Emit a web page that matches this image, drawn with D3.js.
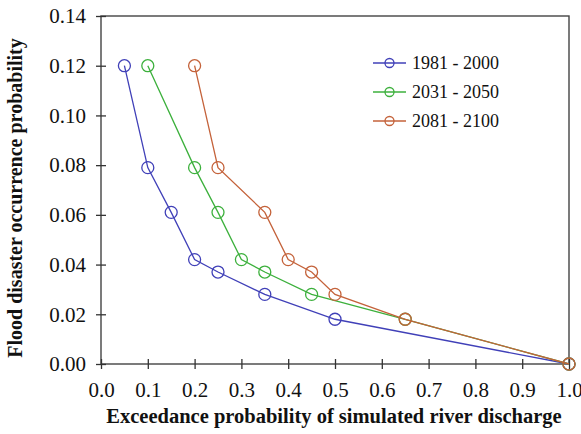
<!DOCTYPE html>
<html>
<head>
<meta charset="utf-8">
<script src="https://cdn.jsdelivr.net/npm/d3@7"></script>
<style>
  body { margin: 0; background: #fff; }
</style>
</head>
<body>
<script>
// exceedance probability (x) and flood occurrence probability (y) for each period
const periods = ['1981 - 2000', '2031 - 2050', '2081 - 2100'];
const colors = ['#4040b8', '#3cb03c', '#c4623a'];

const xBase = [0.05, 0.10, 0.15, 0.20, 0.25, 0.35, 0.50, 1.00];
const xMid = [0.10, 0.20, 0.25, 0.30, 0.35, 0.45, 0.65, 1.00];
const xLate = [0.20, 0.25, 0.35, 0.40, 0.45, 0.50, 0.65, 1.00];
const yProb = [0.120, 0.079, 0.061, 0.042, 0.037, 0.028, 0.018, 0.000];

const xTicks = [0, 0.1, 0.2, 0.3, 0.4, 0.5, 0.6, 0.7, 0.8, 0.9, 1.0];
const yTicks = [0, 0.02, 0.04, 0.06, 0.08, 0.10, 0.12, 0.14];

const series = [xBase, xMid, xLate].map((xs, i) => ({
  name: periods[i],
  color: colors[i],
  points: xs.map((x, j) => ({ x: x, y: yProb[j] }))
}));

const serif = '"Liberation Serif"';

const width = 581;
const height = 434;
const margin = { top: 16, right: 12, bottom: 70, left: 101 };
const innerWidth = width - margin.left - margin.right;
const innerHeight = height - margin.top - margin.bottom;

const svg = d3.select('body').append('svg')
  .attr('width', width)
  .attr('height', height)
  .style('font-family', serif);

const g = svg.append('g')
  .attr('transform', `translate(${margin.left}, ${margin.top})`);

const xScale = d3.scaleLinear().domain([0, 1]).range([0, innerWidth]);
const yScale = d3.scaleLinear().domain([0, 0.14]).range([innerHeight, 0]);

// frame
g.append('rect')
  .attr('width', innerWidth)
  .attr('height', innerHeight)
  .attr('fill', 'none')
  .attr('stroke', '#444')
  .attr('stroke-width', 1.4);

// axes, ticks cross the axis line
const xAxis = d3.axisBottom(xScale)
  .tickValues(xTicks)
  .tickFormat(d3.format('.1f'))
  .tickSizeInner(5)
  .tickSizeOuter(0)
  .tickPadding(13);

const yAxis = d3.axisLeft(yScale)
  .tickValues(yTicks)
  .tickFormat(d3.format('.2f'))
  .tickSizeInner(5)
  .tickSizeOuter(0)
  .tickPadding(10);

const xAxisG = g.append('g')
  .attr('transform', `translate(0, ${innerHeight})`)
  .call(xAxis)
  .attr('font-family', serif);
xAxisG.select('.domain').remove();
xAxisG.selectAll('.tick line')
  .attr('y1', -5).attr('y2', 5)
  .attr('stroke', '#333').attr('stroke-width', 1.3);
xAxisG.selectAll('.tick text')
  .style('font-family', serif)
  .style('font-size', '21px')
  .attr('fill', '#111');

const yAxisG = g.append('g').call(yAxis)
  .attr('font-family', serif);
yAxisG.select('.domain').remove();
yAxisG.selectAll('.tick line')
  .attr('x1', -5).attr('x2', 5)
  .attr('stroke', '#333').attr('stroke-width', 1.3);
yAxisG.selectAll('.tick text')
  .style('font-family', serif)
  .style('font-size', '21px')
  .attr('fill', '#111');

// axis titles
svg.append('text')
  .attr('x', 334)
  .attr('y', 423)
  .attr('text-anchor', 'middle')
  .style('font-family', serif)
  .style('font-size', '20.5px')
  .style('font-weight', 'bold')
  .attr('fill', '#111')
  .text('Exceedance probability of simulated river discharge');

svg.append('text')
  .attr('transform', `translate(22, ${margin.top + innerHeight / 2 + 8}) rotate(-90)`)
  .attr('text-anchor', 'middle')
  .style('font-family', serif)
  .style('font-size', '20px')
  .style('font-weight', 'bold')
  .attr('fill', '#111')
  .text('Flood disaster occurrence probability');

// lines and markers
const line = d3.line()
  .x(d => xScale(d.x))
  .y(d => yScale(d.y));

const seriesG = g.selectAll('.series').data(series)
  .enter().append('g')
  .attr('class', 'series');

seriesG.append('path')
  .attr('d', d => line(d.points))
  .attr('fill', 'none')
  .attr('stroke', d => d.color)
  .attr('stroke-width', 1.3);

seriesG.each(function (s) {
  d3.select(this).selectAll('circle').data(s.points)
    .enter().append('circle')
    .attr('cx', d => xScale(d.x))
    .attr('cy', d => yScale(d.y))
    .attr('r', 6)
    .attr('fill', 'none')
    .attr('stroke', s.color)
    .attr('stroke-width', 1.3);
});

// legend
const legend = svg.append('g')
  .attr('transform', 'translate(373, 63)');

const legendRow = legend.selectAll('g').data(series)
  .enter().append('g')
  .attr('transform', (d, i) => `translate(0, ${i * 29})`);

legendRow.append('line')
  .attr('x1', 0).attr('x2', 33)
  .attr('stroke', d => d.color)
  .attr('stroke-width', 1.3);

legendRow.append('circle')
  .attr('cx', 16.5)
  .attr('r', 4.5)
  .attr('fill', 'none')
  .attr('stroke', d => d.color)
  .attr('stroke-width', 1.3);

legendRow.append('text')
  .attr('x', 39)
  .attr('y', 6)
  .style('font-family', serif)
  .style('font-size', '18px')
  .attr('fill', '#111')
  .text(d => d.name);
</script>
</body>
</html>
